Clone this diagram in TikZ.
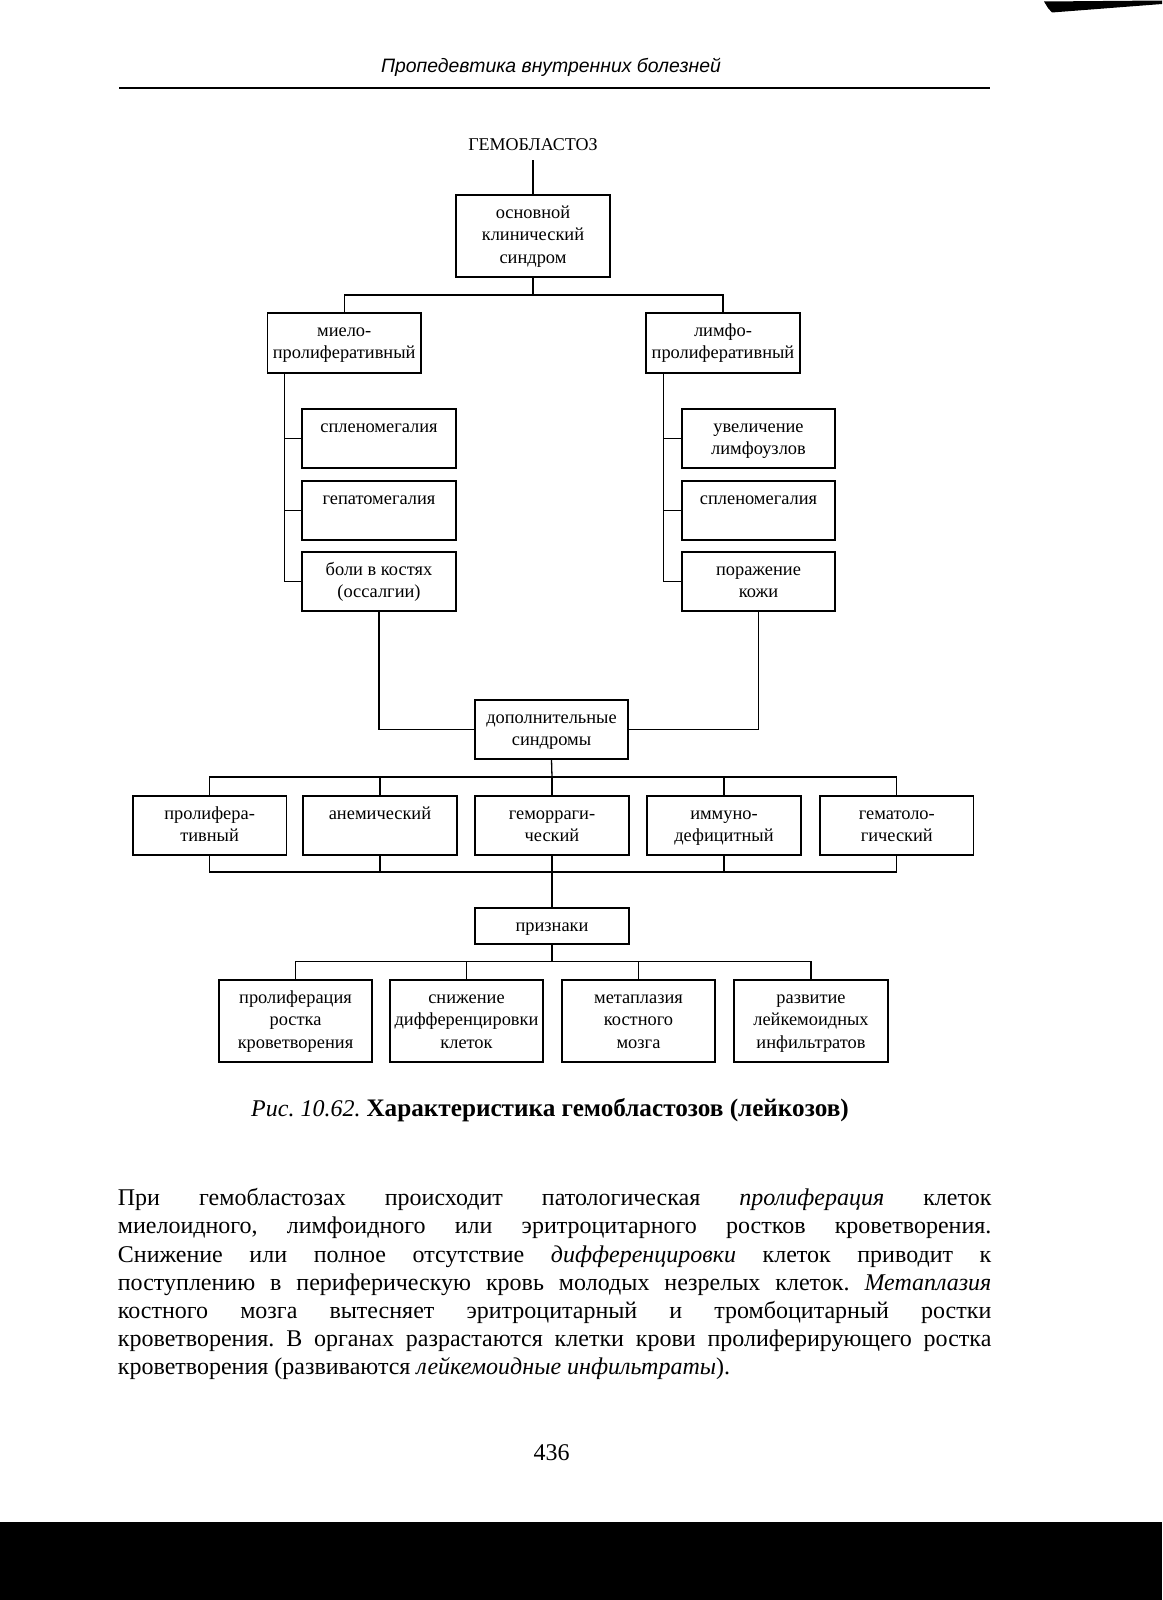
\documentclass[tikz,border=0pt]{standalone}
\usepackage{fontspec}
\setmainfont{Liberation Serif}
\newfontfamily\hdrfont{Liberation Sans}
\frenchspacing
\newcommand{\bxt}[2]{\parbox[c][#1][t]{76.75pt}{\centering\fontsize{9.2}{11.25}\selectfont\rule{0pt}{11.7pt}#2}}
\newcommand{\parline}[1]{\makebox[436.75pt][s]{#1}}
\tikzset{
  box/.style={draw, inner sep=0pt, line width=0.8pt},
  ln/.style={line width=0.65pt},
  txt/.style={anchor=base, inner sep=0pt},
  pline/.style={anchor=base west, inner sep=0pt, font=\fontsize{12}{14}\selectfont},
}
\begin{document}
\begin{tikzpicture}[x=0.5pt,y=-0.5pt]
\fill[white] (0,0) rectangle (1162,1600);
\useasboundingbox (0,0) rectangle (1162,1600);
% page furniture
\fill[black] (1044,1.5) -- (1162,0.5) -- (1162,4) -- (1052,12.5) -- (1048,8) -- cycle;
\fill[black] (0,1522) rectangle (1162,1600);
\node[txt] (hdr) at (551,73) {\hdrfont\itshape\fontsize{9.7}{11}\selectfont Пропедевтика внутренних болезней};
\draw[line width=0.8pt] (119,88) -- (990,88);

% diagram
\node[txt, outer sep=5pt, font=\fontsize{9}{11}\selectfont] (gem) at (533,150) {ГЕМОБЛАСТОЗ};
\node[box] (osn) at (533,236) {\bxt{41pt}{основной\\клинический\\синдром}};
\node[box] (mie) at (344.2,343) {\bxt{30pt}{миело-\\пролиферативный}};
\node[box] (lim) at (723,343) {\bxt{30pt}{лимфо-\\пролиферативный}};
\node[box] (ls1) at (379,438.5) {\bxt{29.5pt}{спленомегалия}};
\node[box] (ls2) at (379,510.5) {\bxt{29.5pt}{гепатомегалия}};
\node[box] (ls3) at (379,581.5) {\bxt{29.5pt}{боли в костях\\(оссалгии)}};
\node[box] (rs1) at (758.5,438.5) {\bxt{29.5pt}{увеличение\\лимфоузлов}};
\node[box] (rs2) at (758.5,510.5) {\bxt{29.5pt}{спленомегалия}};
\node[box] (rs3) at (758.5,581.5) {\bxt{29.5pt}{поражение\\кожи}};
\node[box] (dop) at (551.5,729.5) {\bxt{29.5pt}{дополнительные\\синдромы}};
\node[box] (s1) at (209.6,825.5) {\bxt{29.5pt}{пролифера-\\тивный}};
\node[box] (s2) at (380,825.5) {\bxt{29.5pt}{анемический}};
\node[box] (s3) at (552,825.5) {\bxt{29.5pt}{геморраги-\\ческий}};
\node[box] (s4) at (724,825.5) {\bxt{29.5pt}{иммуно-\\дефицитный}};
\node[box] (s5) at (896.8,825.5) {\bxt{29.5pt}{гематоло-\\гический}};
\node[box] (pri) at (552,926) {\bxt{18pt}{признаки}};
\node[box] (b1) at (295.5,1021) {\bxt{41pt}{пролиферация\\ростка\\кроветворения}};
\node[box] (b2) at (466.5,1021) {\bxt{41pt}{снижение\\дифференцировки\\клеток}};
\node[box] (b3) at (638.5,1021) {\bxt{41pt}{метаплазия\\костного\\мозга}};
\node[box] (b4) at (811,1021) {\bxt{41pt}{развитие\\лейкемоидных\\инфильтратов}};

\coordinate (j1) at (533,295);
\coordinate (lt) at ([xshift=9pt]mie.south west);
\coordinate (rt) at ([xshift=9pt]lim.south west);
\coordinate (j2) at (552,777);
\coordinate (j3) at (552,872);
\coordinate (j4) at (552,961.7);

\draw[ln] (gem.south) -- (osn.north);
\draw[ln] (osn.south) -- (j1);
\draw[ln] (mie.north) |- (j1) -| (lim.north);
\draw[ln] (lt) |- (ls3.west);
\draw[ln] (ls1.west) -- (lt |- ls1.west);
\draw[ln] (ls2.west) -- (lt |- ls2.west);
\draw[ln] (rt) |- (rs3.west);
\draw[ln] (rs1.west) -- (rt |- rs1.west);
\draw[ln] (rs2.west) -- (rt |- rs2.west);
\draw[ln] (ls3.south) |- (dop.west);
\draw[ln] (rs3.south) |- (dop.east);
\draw[ln] (dop.south) -- (j2);
\draw[ln] (s1.north) |- (j2) -| (s5.north);
\draw[ln] (s2.north) -- (s2.north |- j2);
\draw[ln] (s3.north) -- (s3.north |- j2);
\draw[ln] (s4.north) -- (s4.north |- j2);
\draw[ln] (s1.south) |- (j3) -| (s5.south);
\draw[ln] (s2.south) -- (s2.south |- j3);
\draw[ln] (s4.south) -- (s4.south |- j3);
\draw[ln] (s3.south) -- (pri.north);
\draw[ln] (pri.south) -- (j4);
\draw[ln] (b1.north) |- (j4) -| (b4.north);
\draw[ln] (b2.north) -- (b2.north |- j4);
\draw[ln] (b3.north) -- (b3.north |- j4);

% caption and text
\node[txt] (cap) at (550,1116.7) {\fontsize{12}{14}\selectfont\textit{Рис. 10.62.} \fontsize{12.6}{14}\selectfont\textbf{Характеристика гемобластозов (лейкозов)}};
\node[pline] (p1) at (117.5,1205.7) {\parline{При гемобластозах происходит патологическая \textit{пролиферация} клеток}};
\node[pline] (p2) at (117.5,1233.9) {\parline{миелоидного, лимфоидного или эритроцитарного ростков кроветворения.}};
\node[pline] (p3) at (117.5,1262.1) {\parline{Снижение или полное отсутствие \textit{дифференцировки} клеток приводит к}};
\node[pline] (p4) at (117.5,1290.3) {\parline{поступлению в периферическую кровь молодых незрелых клеток. \textit{Метаплазия}}};
\node[pline] (p5) at (117.5,1318.5) {\parline{костного мозга вытесняет эритроцитарный и тромбоцитарный ростки}};
\node[pline] (p6) at (117.5,1346.7) {\parline{кроветворения. В органах разрастаются клетки крови пролиферирующего ростка}};
\node[pline] (p7) at (117.5,1374.9) {кроветворения (развиваются \textit{лейкемоидные инфильтраты}).};
\node[txt, font=\fontsize{12}{14}\selectfont] (pg) at (551.5,1460) {436};
\end{tikzpicture}
\end{document}
